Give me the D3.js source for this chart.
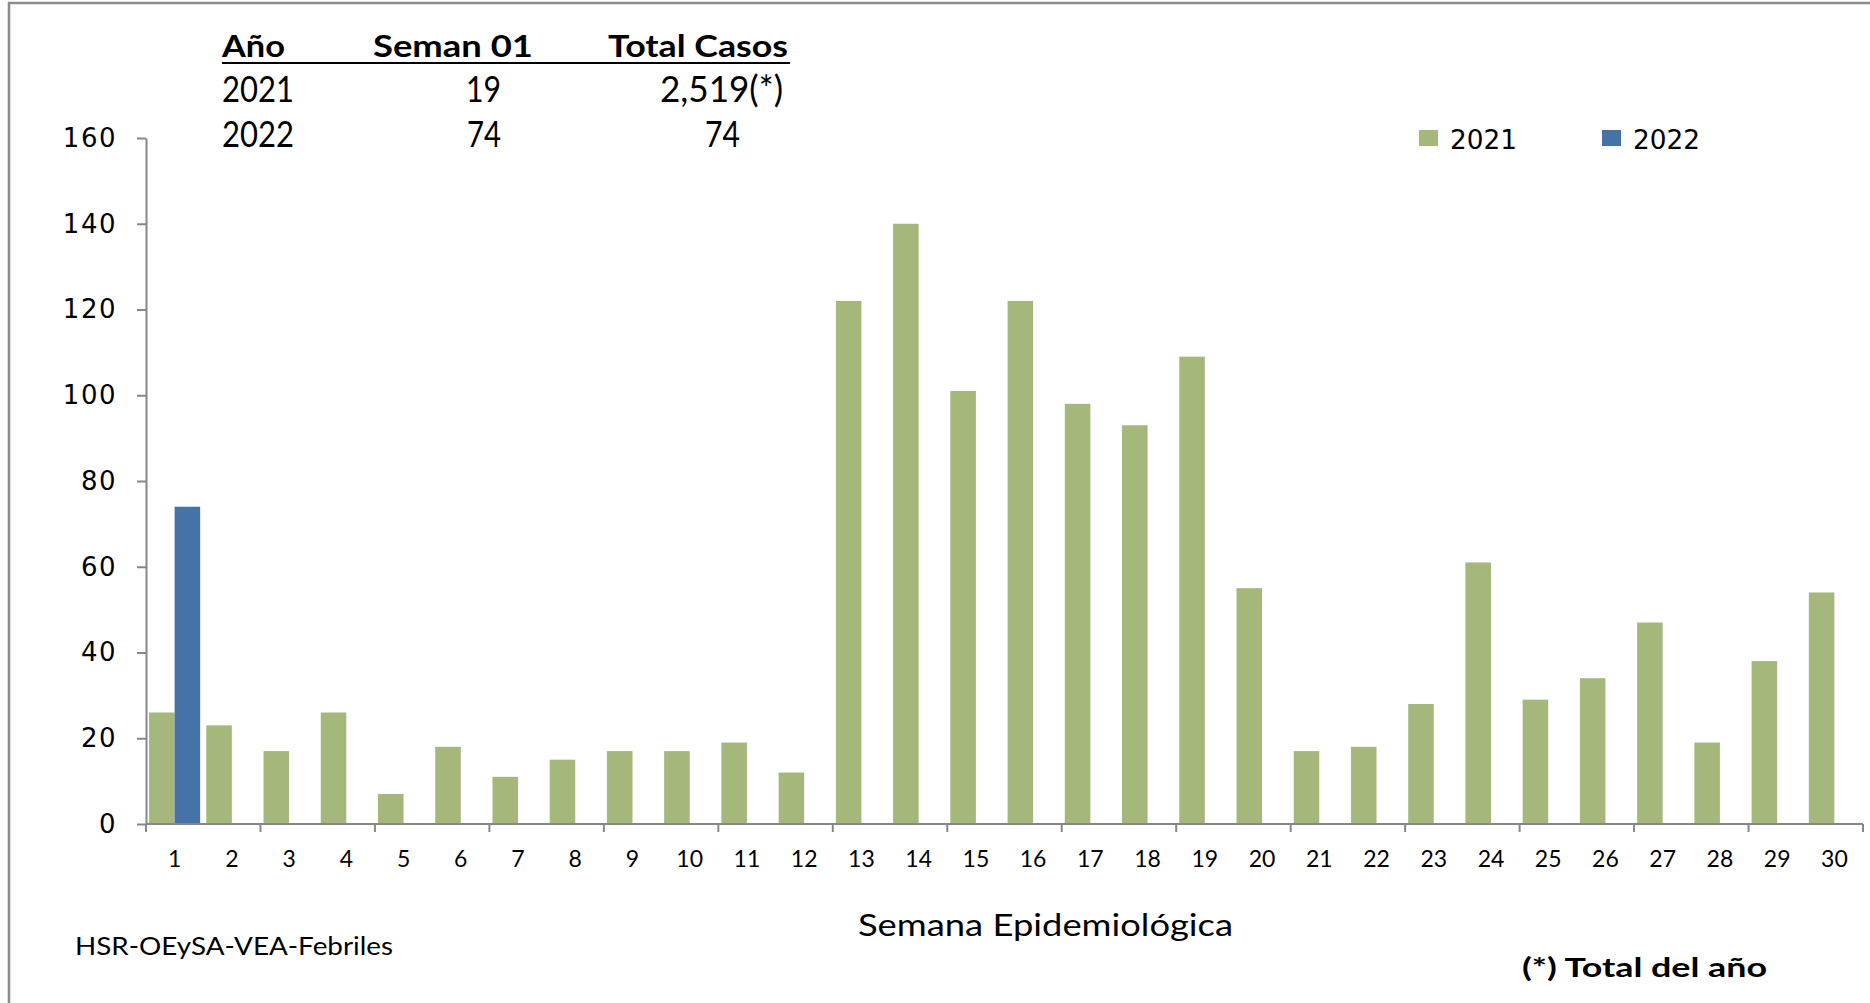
<!DOCTYPE html>
<html>
<head>
<meta charset="utf-8">
<script src="https://cdn.jsdelivr.net/npm/d3@7"></script>
<style>
  body { margin: 0; background: #fff; }
  svg { display: block; }
  .axis path, .axis line { stroke: #878787; stroke-width: 2; }
</style>
</head>
<body>
<script>
// weekly cases (semana epidemiologica)
var weeks = d3.range(1, 31);
var cases2021 = [26, 23, 17, 26, 7, 18, 11, 15, 17, 17, 19, 12, 122, 140, 101,
                 122, 98, 93, 109, 55, 17, 18, 28, 61, 29, 34, 47, 19, 38, 54];
var cases2022 = [74];
var seriesNames = ['2021', '2022'];
var yTicks = [0, 20, 40, 60, 80, 100, 120, 140, 160];

var tableHeader = ['Año', 'Seman  01', 'Total Casos'];
var tableRows = [
  ['2021', '19', '2,519(*)'],
  ['2022', '74', '74']
];

var colors = { '2021': '#a5b77b', '2022': '#4673a7' };

var W = 1870, H = 1003;

var svg = d3.select('body').append('svg')
  .attr('width', W)
  .attr('height', H);

// outer frame
svg.append('rect')
  .attr('x', 9).attr('y', 3)
  .attr('width', W + 20).attr('height', H + 20)
  .attr('fill', 'none')
  .attr('stroke', '#8c8c8c')
  .attr('stroke-width', 2.5);

var x0 = d3.scaleBand()
  .domain(weeks)
  .range([146, 1863])
  .padding(0);

var x1 = d3.scaleBand()
  .domain(seriesNames)
  .range([0, x0.bandwidth()])
  .paddingInner(0)
  .paddingOuter(0.12);

var y = d3.scaleLinear()
  .domain([0, 160])
  .range([824, 138]);

// fit a text to a measured width
function fit(sel, len) {
  return sel.attr('textLength', len).attr('lengthAdjust', 'spacingAndGlyphs');
}

// bars
var plot = svg.append('g').attr('class', 'bars');

plot.selectAll('.b2021')
  .data(cases2021)
  .enter()
  .append('rect')
  .attr('class', 'b2021')
  .attr('x', function(d, i) { return x0(weeks[i]) + x1('2021'); })
  .attr('y', function(d) { return y(d); })
  .attr('width', x1.bandwidth())
  .attr('height', function(d) { return y(0) - y(d); })
  .attr('fill', colors['2021']);

plot.selectAll('.b2022')
  .data(cases2022)
  .enter()
  .append('rect')
  .attr('class', 'b2022')
  .attr('x', function(d, i) { return x0(weeks[i]) + x1('2022'); })
  .attr('y', function(d) { return y(d); })
  .attr('width', x1.bandwidth())
  .attr('height', function(d) { return y(0) - y(d); })
  .attr('fill', colors['2022']);

// y axis
var yAxis = svg.append('g')
  .attr('class', 'axis')
  .attr('transform', 'translate(' + x0.range()[0] + ',0)')
  .call(d3.axisLeft(y).tickValues(yTicks).tickSize(9).tickSizeOuter(0).tickPadding(20));

yAxis.selectAll('text')
  .attr('font-family', '"DejaVu Sans", Verdana, sans-serif')
  .attr('font-size', 26)
  .attr('letter-spacing', 1.5)
  .attr('fill', '#000');

// x axis: labels every week, tick marks every 2 weeks
var xAxis = svg.append('g')
  .attr('class', 'axis')
  .attr('transform', 'translate(0,' + y(0) + ')')
  .call(d3.axisBottom(x0).tickSize(0).tickPadding(27));

xAxis.select('.domain').attr('d', 'M' + x0.range()[0] + ',0H' + x0.range()[1]);

xAxis.selectAll('text')
  .attr('font-family', 'Lato, "Open Sans", sans-serif')
  .attr('font-size', 23)
  .attr('fill', '#000');

var tickPos = d3.range(0, weeks.length + 1, 2).map(function(i) {
  return x0.range()[0] + i * x0.step();
});

xAxis.selectAll('.mark')
  .data(tickPos)
  .enter()
  .append('line')
  .attr('class', 'mark')
  .attr('x1', function(d) { return d; })
  .attr('x2', function(d) { return d; })
  .attr('y1', 0)
  .attr('y2', 8);

// legend
var legendX = [1419, 1602];
var legend = svg.append('g').attr('class', 'legend');
seriesNames.forEach(function(s, i) {
  legend.append('rect')
    .attr('x', legendX[i]).attr('y', 130)
    .attr('width', 19).attr('height', 16)
    .attr('fill', colors[s]);
  fit(legend.append('text')
    .attr('x', legendX[i] + 31).attr('y', 149)
    .attr('font-family', '"DejaVu Sans", Verdana, sans-serif')
    .attr('font-size', 27)
    .attr('fill', '#000')
    .text(s), 67);
});

// summary table
var table = svg.append('g').attr('class', 'table')
  .attr('font-family', 'Lato, "Open Sans", sans-serif')
  .attr('fill', '#000');

var headX = [222, 373, 608];
var headW = [63, 160, 180];
tableHeader.forEach(function(t, i) {
  fit(table.append('text')
    .attr('x', headX[i]).attr('y', 57)
    .attr('font-weight', 'bold')
    .attr('font-size', 30)
    .text(t), headW[i]);
});

table.append('line')
  .attr('x1', 222).attr('x2', 790)
  .attr('y1', 63).attr('y2', 63)
  .attr('stroke', '#000')
  .attr('stroke-width', 2);

var colX = [222, 501, 0];
var rowY = [101.5, 146.5];
var totalRight = [783, 740];
var cellW = [[72, 35, 123], [72, 34, 35]];
tableRows.forEach(function(row, r) {
  row.forEach(function(t, c) {
    var xPos = c === 2 ? totalRight[r] : colX[c];
    fit(table.append('text')
      .attr('x', xPos).attr('y', rowY[r])
      .attr('text-anchor', c === 0 ? 'start' : 'end')
      .attr('font-size', 36)
      .text(t), cellW[r][c]);
  });
});

// axis title and notes
fit(svg.append('text')
  .attr('x', 858).attr('y', 936)
  .attr('font-family', 'Lato, "Open Sans", sans-serif')
  .attr('font-size', 31)
  .attr('fill', '#000')
  .text('Semana Epidemiológica'), 375);

fit(svg.append('text')
  .attr('x', 75).attr('y', 955)
  .attr('font-family', 'Lato, "Open Sans", sans-serif')
  .attr('font-size', 25)
  .attr('fill', '#000')
  .text('HSR-OEySA-VEA-Febriles'), 318);

fit(svg.append('text')
  .attr('x', 1522).attr('y', 977)
  .attr('font-family', 'Lato, "Open Sans", sans-serif')
  .attr('font-weight', 'bold')
  .attr('font-size', 26)
  .attr('fill', '#000')
  .text('(*) Total del año'), 245);
</script>
</body>
</html>
